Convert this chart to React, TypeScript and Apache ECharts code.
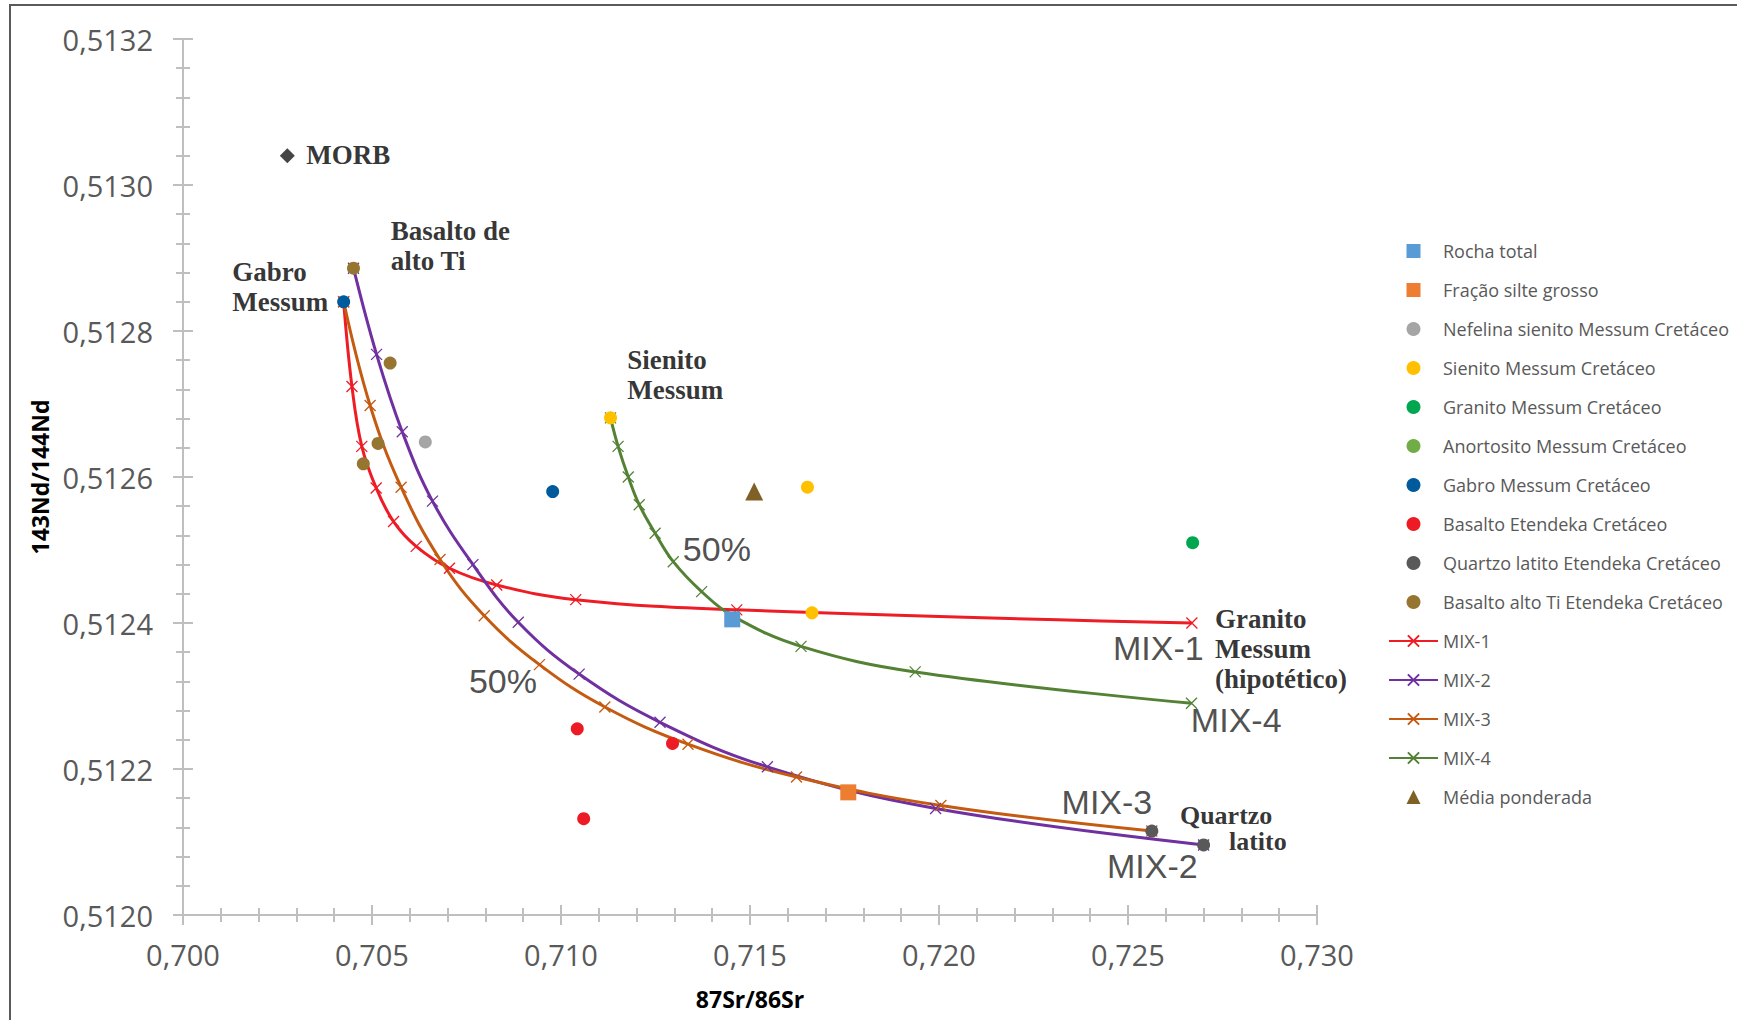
import React, { useEffect, useRef } from "react";
import * as echarts from "echarts";

// ---- axis ranges ----
const X_MIN = 0.7;
const X_MAX = 0.73;
const X_STEP = 0.005;
const Y_MIN = 0.512;
const Y_MAX = 0.5132;
const Y_STEP = 0.0002;

// ---- sample points [87Sr/86Sr, 143Nd/144Nd] ----
const rochaTotal = [[0.71453, 0.512405]];
const fracaoSilte = [[0.7176, 0.512168]];
const nefelina = [[0.70641, 0.512648]];
const sienito = [[0.71131, 0.512681], [0.71652, 0.512586], [0.71664, 0.512414]];
const granito = [[0.72671, 0.51251]];
const anortosito: number[][] = [];
const gabro = [[0.70425, 0.51284], [0.70978, 0.51258]];
const basaltoEtendeka = [[0.71043, 0.512255], [0.71295, 0.512235], [0.7106, 0.512132]];
const quartzoLatito = [[0.72563, 0.512115], [0.727, 0.512096]];
const basaltoAltoTi = [[0.70451, 0.512886], [0.70548, 0.512756], [0.70516, 0.512646], [0.70477, 0.512618]];
const mediaPonderada = [[0.71511, 0.51258]];
const morb = [[0.70276, 0.51304]];

// ---- mixing curves ----
const mix1 = [
  [0.70425, 0.51284], [0.70447, 0.512724], [0.70473, 0.512642], [0.70511, 0.512585],
  [0.70557, 0.512539], [0.70617, 0.512505], [0.70705, 0.512475], [0.7083, 0.512452],
  [0.71039, 0.512432], [0.71465, 0.512418], [0.72669, 0.5124],
];
const mix2 = [
  [0.70451, 0.512886], [0.70512, 0.512768], [0.7058, 0.512662], [0.7066, 0.512567],
  [0.70767, 0.51248], [0.70887, 0.512401], [0.71048, 0.51233], [0.71262, 0.512264],
  [0.71546, 0.512203], [0.71991, 0.512146], [0.727, 0.512096],
];
const mix3 = [
  [0.70425, 0.51284], [0.70495, 0.512698], [0.70577, 0.512586], [0.7068, 0.512487],
  [0.70797, 0.51241], [0.70943, 0.512343], [0.71116, 0.512285], [0.71336, 0.512234],
  [0.71623, 0.512189], [0.72005, 0.51215], [0.72563, 0.512115],
];
const mix4 = [
  [0.71131, 0.512681], [0.71151, 0.512642], [0.71178, 0.5126], [0.71207, 0.512562],
  [0.71249, 0.512523], [0.71297, 0.512484], [0.71372, 0.512443], [0.71456, 0.512409],
  [0.71635, 0.512368], [0.71937, 0.512333], [0.72668, 0.51229],
];

// ---- annotations (anchored at left / vertical middle, data coordinates) ----
const serifNotes = [
  { text: "MORB", at: [0.70325, 0.513041] },
  { text: "Gabro\nMessum", at: [0.70129, 0.51286] },
  { text: "Basalto de\nalto Ti", at: [0.70548, 0.512917] },
  { text: "Sienito\nMessum", at: [0.71174, 0.51274] },
  { text: "Granito\nMessum\n(hipotético)", at: [0.72729, 0.512365] },
];
const quartzoNote = { first: "Quartzo", second: "latito", at: [0.72636, 0.512118] };
const sansNotes = [
  { text: "50%", at: [0.71321, 0.512502] },
  { text: "50%", at: [0.70755, 0.512321] },
  { text: "MIX-1", at: [0.72459, 0.512366] },
  { text: "MIX-4", at: [0.72665, 0.512267] },
  { text: "MIX-3", at: [0.72323, 0.512155] },
  { text: "MIX-2", at: [0.72443, 0.512067] },
];

const legendNames = [
  "Rocha total",
  "Fração silte grosso",
  "Nefelina sienito Messum Cretáceo",
  "Sienito Messum Cretáceo",
  "Granito Messum Cretáceo",
  "Anortosito Messum Cretáceo",
  "Gabro Messum Cretáceo",
  "Basalto Etendeka Cretáceo",
  "Quartzo latito Etendeka Cretáceo",
  "Basalto alto Ti Etendeka Cretáceo",
  "MIX-1",
  "MIX-2",
  "MIX-3",
  "MIX-4",
  "Média ponderada",
];

const CROSS = "path://M0,0L10,10M10,0L0,10";
const AXIS_GRAY = "#BFBFBF";
const SANS = "'Open Sans', 'Liberation Sans', sans-serif";
const SERIF = "'Liberation Serif', 'Times New Roman', serif";

function scatter(name: string, data: number[][], color: string, symbol = "circle", size = 13) {
  return {
    type: "scatter",
    name,
    data,
    symbol,
    symbolSize: size,
    symbolKeepAspect: true,
    itemStyle: { color, opacity: 1 },
    z: 4,
    silent: true,
  };
}

function mix(name: string, data: number[][], color: string) {
  return {
    type: "line",
    name,
    data,
    smooth: 0.4,
    symbol: CROSS,
    symbolSize: 11,
    showSymbol: true,
    lineStyle: { color, width: 3 },
    itemStyle: { color, borderColor: color, borderWidth: 1.3 },
    z: 2,
    silent: true,
  };
}

function notes(items: { text: string; at: number[] }[], label: any) {
  return {
    type: "scatter",
    name: "__notes",
    data: items.map((n) => ({ name: n.text, value: n.at })),
    symbolSize: 1,
    itemStyle: { color: "rgba(0,0,0,0)" },
    label: { show: true, position: "right", distance: 0, formatter: "{b}", ...label },
    z: 6,
    silent: true,
  };
}

function baseAxis(min: number, max: number, step: number, inside: boolean, tickLen: number, minorLen: number) {
  return {
    type: "value",
    min,
    max,
    interval: step,
    axisLine: { show: !inside, onZero: false, lineStyle: { color: AXIS_GRAY, width: 2 } },
    axisTick: { show: true, inside, length: tickLen, lineStyle: { color: AXIS_GRAY, width: 2 } },
    minorTick: { show: true, splitNumber: 5, length: minorLen, lineStyle: { color: AXIS_GRAY, width: 2 } },
    splitLine: { show: false },
    minorSplitLine: { show: false },
  };
}

// square icons for square / triangle legend entries
const squareIcon = "path://M0,0L10,0L10,10L0,10Z";
const triangleIcon = "path://M5,0L10,10L0,10Z";

export default function App() {
  const ref = useRef<HTMLDivElement>(null);
  useEffect(() => {
    if (!ref.current) return;
    const chart = echarts.init(ref.current, null, { renderer: "svg" });
    const legendData = legendNames.map((n) => {
      if (n === "Rocha total" || n === "Fração silte grosso") return { name: n, icon: squareIcon, symbolKeepAspect: true };
      if (n === "Média ponderada") return { name: n, icon: triangleIcon, symbolKeepAspect: true };
      return { name: n };
    });
    const serifStyle = { fontFamily: SERIF, fontWeight: "bold", fontSize: 27, color: "#000" };
    const quartzoStyle = { ...serifStyle, fontSize: 26, lineHeight: 26 };
    const option: any = {
      animation: false,
      backgroundColor: "#ffffff",
      grid: { left: 183, top: 39, width: 1134, height: 876 },
      xAxis: [
        {
          ...baseAxis(X_MIN, X_MAX, X_STEP, false, 10, 7),
          position: "bottom",
          axisLabel: {
            formatter: (v: number) => v.toFixed(3).replace(".", ","),
            fontFamily: SANS,
            fontSize: 29,
            color: "#595959",
            margin: 25,
          },
          name: "87Sr/86Sr",
          nameLocation: "middle",
          nameGap: 72,
          nameTextStyle: { fontFamily: SANS, fontWeight: "bold", fontSize: 23, color: "#000" },
        },
        { ...baseAxis(X_MIN, X_MAX, X_STEP, true, 10, 7), position: "bottom", axisLabel: { show: false } },
      ],
      yAxis: [
        {
          ...baseAxis(Y_MIN, Y_MAX, Y_STEP, false, 10, 7),
          position: "left",
          axisLabel: {
            formatter: (v: number) => v.toFixed(4).replace(".", ","),
            fontFamily: SANS,
            fontSize: 29,
            color: "#595959",
            margin: 30,
          },
          name: "143Nd/144Nd",
          nameLocation: "middle",
          nameGap: 132,
          nameTextStyle: { fontFamily: SANS, fontWeight: "bold", fontSize: 23, color: "#000" },
        },
        { ...baseAxis(Y_MIN, Y_MAX, Y_STEP, true, 10, 7), position: "left", axisLabel: { show: false } },
      ],
      legend: {
        orient: "vertical",
        left: 1388,
        top: 241,
        padding: 0,
        itemWidth: 49,
        itemHeight: 14,
        itemGap: 19,
        symbolKeepAspect: true,
        selectedMode: false,
        textStyle: { fontFamily: SANS, fontSize: 18, color: "#595959", lineHeight: 20 },
        data: legendData,
      },
      graphic: [
        { type: "line", shape: { x1: 9, y1: 5, x2: 1737, y2: 5 }, style: { stroke: "#5a5a5a", lineWidth: 2 } },
        { type: "line", shape: { x1: 10, y1: 4, x2: 10, y2: 1020 }, style: { stroke: "#5a5a5a", lineWidth: 2 } },
      ],
      series: [
        mix("MIX-1", mix1, "#EE1C25"),
        mix("MIX-2", mix2, "#7030A0"),
        mix("MIX-3", mix3, "#C55A11"),
        mix("MIX-4", mix4, "#548235"),
        scatter("Rocha total", rochaTotal, "#5B9BD5", "rect", 16),
        scatter("Fração silte grosso", fracaoSilte, "#ED7D31", "rect", 16),
        scatter("Nefelina sienito Messum Cretáceo", nefelina, "#A5A5A5"),
        scatter("Sienito Messum Cretáceo", sienito, "#FFC000"),
        scatter("Granito Messum Cretáceo", granito, "#00A650"),
        scatter("Anortosito Messum Cretáceo", anortosito, "#70AD47"),
        scatter("Gabro Messum Cretáceo", gabro, "#005A9C"),
        scatter("Basalto Etendeka Cretáceo", basaltoEtendeka, "#ED1C24"),
        scatter("Quartzo latito Etendeka Cretáceo", quartzoLatito, "#595959"),
        scatter("Basalto alto Ti Etendeka Cretáceo", basaltoAltoTi, "#967530"),
        scatter("Média ponderada", mediaPonderada, "#7F6025", "triangle", 18),
        scatter("MORB", morb, "#454545", "diamond", 15),
        notes(serifNotes, { ...serifStyle, lineHeight: 30 }),
        {
          type: "scatter",
          name: "__notes",
          data: [{ name: quartzoNote.first, value: quartzoNote.at }],
          symbolSize: 1,
          itemStyle: { color: "rgba(0,0,0,0)" },
          label: {
            show: true,
            position: "right",
            distance: 0,
            formatter: `{q|${quartzoNote.first}}\n{l|${quartzoNote.second}}`,
            ...quartzoStyle,
            rich: {
              q: { ...quartzoStyle },
              l: { ...quartzoStyle, padding: [0, 0, 0, 49] },
            },
          },
          z: 6,
          silent: true,
        },
        notes(sansNotes, {
          fontFamily: "'Liberation Sans', Arial, sans-serif",
          fontSize: 34,
          lineHeight: 34,
          color: "#222",
        }),
      ],
    };
    chart.setOption(option);
    return () => chart.dispose();
  }, []);
  return (
    <div
      ref={ref}
      style={{ position: "absolute", left: 0, top: 0, width: 1737, height: 1020 }}
    />
  );
}
